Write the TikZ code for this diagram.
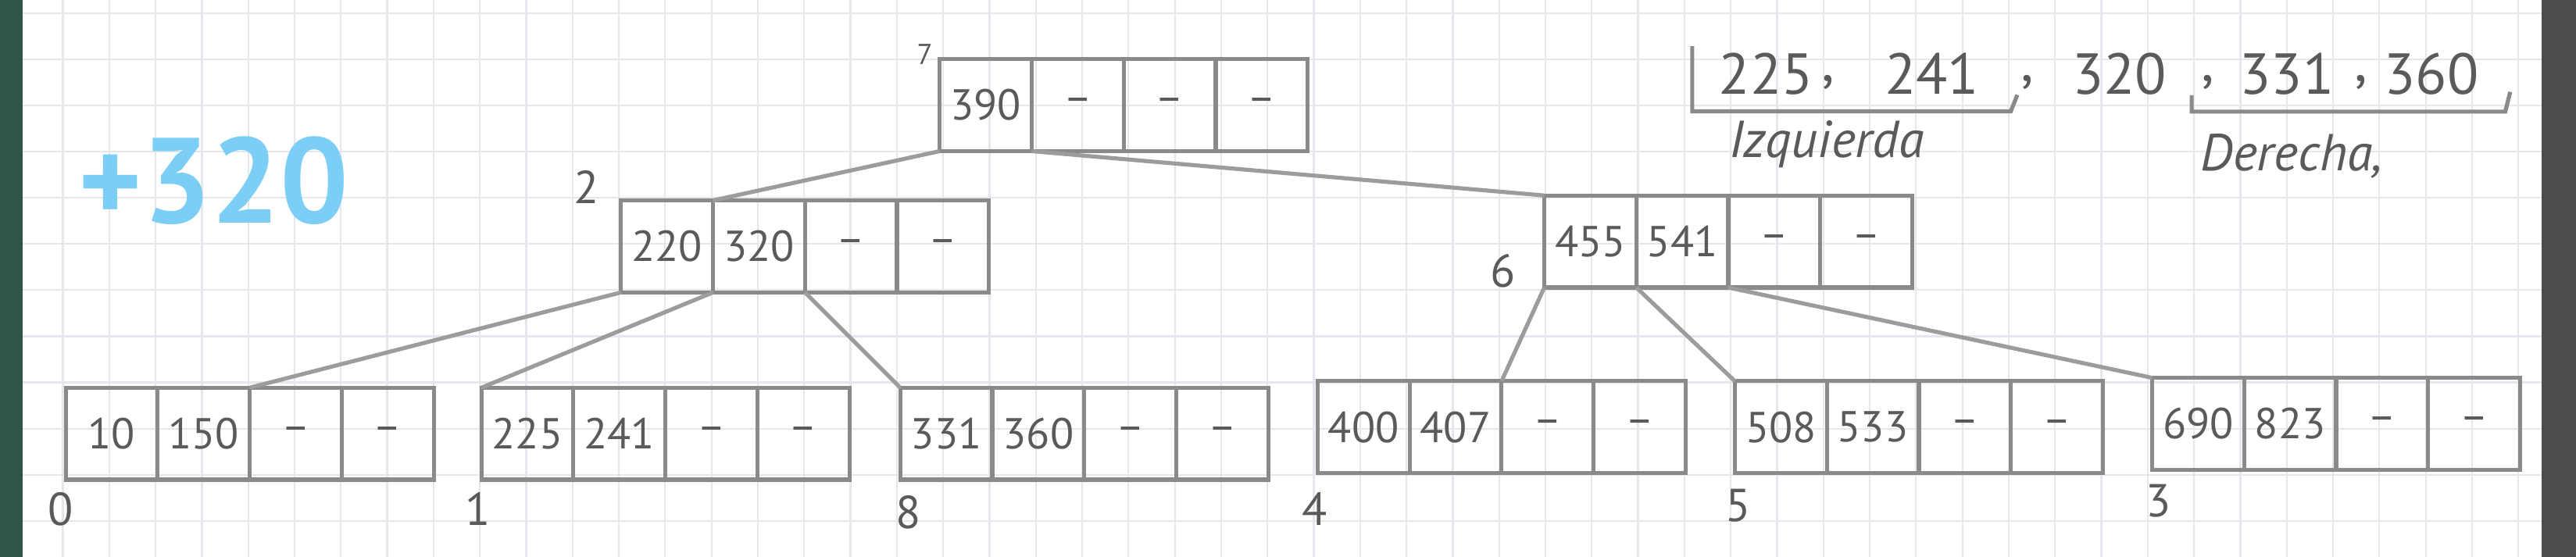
\documentclass[tikz,border=0pt]{standalone}
\usepackage{fontspec}
\setmainfont{PT Sans}
\usepackage{tikz}
\usetikzlibrary{positioning}
\definecolor{pencil}{HTML}{8A8A8A}
\definecolor{pencilDark}{HTML}{5A5A5A}
\definecolor{markerBlue}{HTML}{7CCEF7}
\definecolor{paperGrid}{HTML}{E4E7EB}
\definecolor{deskGreen}{HTML}{2F5548}
\definecolor{deskGray}{HTML}{4A4C4E}
\tikzset{
  cell/.style={draw=pencil, line width=0.7pt, outer sep=0pt, minimum width=5.6mm, minimum height=5.6mm, inner sep=0pt, font=\fontsize{7.5}{9}\selectfont, text=pencilDark},
  pointer/.style={draw=pencil!85, line width=0.7pt},
  pageLabel/.style={font=\fontsize{8}{9}\selectfont, text=pencilDark, inner sep=1pt},
  gridLine/.style={draw=paperGrid, line width=0.3pt},
  keyList/.style={font=\fontsize{10}{12}\selectfont, text=pencilDark, inner sep=1pt},
  bracket/.style={draw=pencil, line width=0.7pt},
  sideNote/.style={font=\itshape\fontsize{9}{11}\selectfont, text=pencilDark, inner sep=1pt}
}
% one page of the B-tree: name, north west corner, four keys
\newcommand{\bpage}[6]{%
  \node[cell, anchor=north west] (#1-1) at (#2) {#3};
  \node[cell, right=0pt of #1-1] (#1-2) {#4};
  \node[cell, right=0pt of #1-2] (#1-3) {#5};
  \node[cell, right=0pt of #1-3] (#1-4) {#6};
}
\newcommand{\nokey}{\textendash}

\begin{document}
\begin{tikzpicture}[x=0.1mm, y=-0.1mm, node distance=0pt]
  \useasboundingbox (0,0) rectangle (1568,339);
  % paper
  \foreach \k in {0,...,55}
    \draw[gridLine] ({10.1+28.2*\k},0) -- ({10.1+28.2*\k},339);
  \foreach \k in {0,...,11}
    \draw[gridLine] (0,{8+28.1*\k}) -- (1568,{8+28.1*\k});
  \fill[deskGreen] (0,0) rectangle (14,339);
  \fill[deskGray] (1547,0) rectangle (1568,339);

  % pages
  \bpage{root}{572,36}{390}{\nokey}{\nokey}{\nokey}
  \bpage{p2}{378,122}{220}{320}{\nokey}{\nokey}
  \bpage{p6}{940,119}{455}{541}{\nokey}{\nokey}
  \bpage{p0}{40,236}{10}{150}{\nokey}{\nokey}
  \bpage{p1}{293,236}{225}{241}{\nokey}{\nokey}
  \bpage{p8}{548,236}{331}{360}{\nokey}{\nokey}
  \bpage{p4}{802,232}{400}{407}{\nokey}{\nokey}
  \bpage{p5}{1056,232}{508}{533}{\nokey}{\nokey}
  \bpage{p3}{1310,230}{690}{823}{\nokey}{\nokey}

  % page numbers
  \node[pageLabel, font=\fontsize{5}{6}\selectfont] (lblRoot) at (563,33) {7};
  \node[pageLabel] (lbl2) at (357,114) {2};
  \node[pageLabel] (lbl6) at (915,165) {6};
  \node[pageLabel] (lbl0) at (37,310) {0};
  \node[pageLabel] (lbl1) at (291,310) {1};
  \node[pageLabel] (lbl8) at (553,312) {8};
  \node[pageLabel] (lbl4) at (800,310) {4};
  \node[pageLabel] (lbl5) at (1058,308) {5};
  \node[pageLabel] (lbl3) at (1314,305) {3};

  % child pointers
  \draw[pointer] (root-1.south west) -- (p2-2.north west);
  \draw[pointer] (root-2.south west) -- (p6-1.north west);
  \draw[pointer] (p2-1.south west) -- (p0-3.north west);
  \draw[pointer] (p2-2.south west) -- (p1-1.north west);
  \draw[pointer] (p2-3.south west) -- (p8-1.north west);
  \draw[pointer] (p6-1.south west) -- (p4-3.north west);
  \draw[pointer] (p6-2.south west) -- (p5-1.north west);
  \draw[pointer] (p6-3.south west) -- (p3-1.north west);

  % inserted key
  \node[text=markerBlue, font=\bfseries\fontsize{21}{24}\selectfont] (insKey) at (130,110) {+320};

  % split of the overflowing page
  \node[keyList] (k225) at (1075,45) {225};
  \node[keyList] (c1) at (1113,50) {,};
  \node[keyList] (k241) at (1176,45) {241};
  \node[keyList] (c2) at (1234,50) {,};
  \node[keyList] (k320) at (1290,45) {320};
  \node[keyList] (c3) at (1344,50) {,};
  \node[keyList] (k331) at (1392,45) {331};
  \node[keyList] (c4) at (1437,50) {,};
  \node[keyList] (k360) at (1480,45) {360};
  \draw[bracket] ([xshift=-1.2mm]k225.north west) |- ([xshift=1.5mm, yshift=-0.6mm]k241.south east) -- ++(0.4mm,1mm);
  \draw[bracket] ([xshift=-2.5mm, yshift=0.4mm]k331.south west) |- ([xshift=1.2mm, yshift=-0.6mm]k360.south east) -- ++(0.3mm,1.2mm);
  \node[sideNote] (leftHalf) at (1112,88) {Izquierda};
  \node[sideNote] (rightHalf) at (1395,95) {Derecha,};
\end{tikzpicture}
\end{document}
